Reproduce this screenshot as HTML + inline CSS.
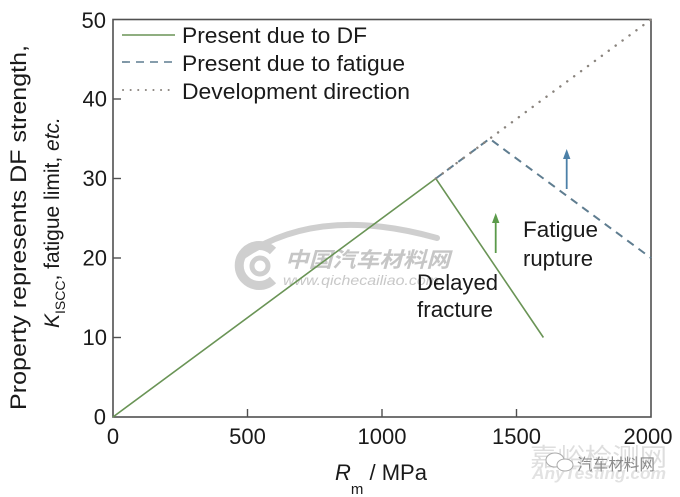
<!DOCTYPE html>
<html>
<head>
<meta charset="utf-8">
<style>
html,body{margin:0;padding:0;background:#fff;}
svg{display:block;}
text{font-family:"Liberation Sans","Noto Sans CJK SC",sans-serif;fill:#1a1a1a;}
</style>
</head>
<body>
<svg width="680" height="497" viewBox="0 0 680 497" xmlns="http://www.w3.org/2000/svg">
  <!-- watermark center -->
  <g fill="none" stroke="#cfcfcf">
    <path d="M245,255 Q320,205 437,238" stroke-width="6" stroke-linecap="round"/>
    <path d="M273,251 A20,20 0 1 0 273,280" stroke-width="9"/>
    <circle cx="260" cy="266" r="8" stroke-width="5"/>
  </g>
  <text x="285" y="267" font-size="21" font-weight="bold" font-style="italic" style="fill:#c6c6c6" textLength="165" lengthAdjust="spacingAndGlyphs">中国汽车材料网</text>
  <text x="283" y="285" font-size="14" font-style="italic" style="fill:#c8c8c8" textLength="156" lengthAdjust="spacingAndGlyphs">www.qichecailiao.com</text>

  <!-- watermark bottom right -->
  <text x="530" y="466" font-size="25" style="fill:#dedede" textLength="137" lengthAdjust="spacingAndGlyphs">嘉峪检测网</text>
  <text x="532" y="479" font-size="17" font-style="italic" font-weight="bold" style="fill:#e2e2e2" textLength="134" lengthAdjust="spacingAndGlyphs">AnyTesting.com</text>
  <g fill="#fff" stroke="#aaa" stroke-width="1">
    <ellipse cx="555" cy="460" rx="9" ry="7"/>
    <ellipse cx="565" cy="465" rx="8" ry="6"/>
  </g>
  <text x="577" y="470" font-size="16" style="fill:#8a8a8a" textLength="78" lengthAdjust="spacingAndGlyphs">汽车材料网</text>

  <!-- axes frame -->
  <rect x="113" y="19.5" width="538" height="397.5" fill="none" stroke="#505050" stroke-width="1.6"/>
  <g stroke="#505050" stroke-width="1.4">
    <line x1="113" y1="337.5" x2="121" y2="337.5"/>
    <line x1="113" y1="258" x2="121" y2="258"/>
    <line x1="113" y1="178.5" x2="121" y2="178.5"/>
    <line x1="113" y1="99" x2="121" y2="99"/>
    <line x1="247.5" y1="417" x2="247.5" y2="409"/>
    <line x1="382" y1="417" x2="382" y2="409"/>
    <line x1="516.5" y1="417" x2="516.5" y2="409"/>
  </g>
  <!-- y tick labels -->
  <g font-size="22" text-anchor="end">
    <text x="106" y="424.5">0</text>
    <text x="107" y="345">10</text>
    <text x="107" y="265.5">20</text>
    <text x="107" y="186">30</text>
    <text x="107" y="106.5">40</text>
    <text x="106" y="28">50</text>
  </g>
  <!-- x tick labels -->
  <g font-size="22" text-anchor="middle">
    <text x="113" y="444">0</text>
    <text x="247.5" y="444">500</text>
    <text x="382" y="444">1000</text>
    <text x="516.5" y="444">1500</text>
    <text x="648" y="444">2000</text>
  </g>
  <!-- x label -->
  <text x="335" y="480" font-size="22"><tspan font-style="italic">R</tspan><tspan font-size="15" dy="14">m</tspan><tspan dy="-14"> / MPa</tspan></text>

  <!-- y label -->
  <text transform="translate(26,227.5) rotate(-90)" font-size="22" text-anchor="middle" textLength="365" lengthAdjust="spacingAndGlyphs">Property represents DF strength,</text>
  <text transform="translate(59,328) rotate(-90)" font-size="21"><tspan font-style="italic">K</tspan><tspan font-size="14" dy="6">ISCC</tspan><tspan dy="-6">, fatigue limit, </tspan><tspan font-style="italic">etc.</tspan></text>

  <!-- series -->
  <polyline points="113,417 435.8,178.5 543.4,337.5" fill="none" stroke="#6a9456" stroke-width="1.6"/>
  <polyline points="435.8,178.5 489.6,138.75 651,258" fill="none" stroke="#5f7d90" stroke-width="2" stroke-dasharray="8,6"/>
  <line x1="435.8" y1="178.5" x2="651" y2="19.5" stroke="#8a847e" stroke-width="2.4" stroke-dasharray="0.1,8.5" stroke-linecap="round"/>

  <!-- arrows -->
  <line x1="495.7" y1="253" x2="495.7" y2="220" stroke="#5b9a4a" stroke-width="1.8"/>
  <polygon points="495.7,213 492,223 499.4,223" fill="#5b9a4a"/>
  <line x1="566.7" y1="189" x2="566.7" y2="156" stroke="#4c80a8" stroke-width="1.8"/>
  <polygon points="566.7,149 563,159 570.4,159" fill="#4c80a8"/>

  <!-- annotations -->
  <g font-size="22">
    <text x="523" y="237" textLength="75" lengthAdjust="spacingAndGlyphs">Fatigue</text>
    <text x="523" y="266" textLength="70" lengthAdjust="spacingAndGlyphs">rupture</text>
    <text x="417" y="290" textLength="81" lengthAdjust="spacingAndGlyphs">Delayed</text>
    <text x="417" y="317" textLength="76" lengthAdjust="spacingAndGlyphs">fracture</text>
  </g>

  <!-- legend -->
  <line x1="122" y1="35" x2="175" y2="35" stroke="#6a9456" stroke-width="1.6"/>
  <line x1="122" y1="62" x2="175" y2="62" stroke="#5f7d90" stroke-width="1.6" stroke-dasharray="8,6"/>
  <line x1="123" y1="90" x2="175" y2="90" stroke="#8a847e" stroke-width="2" stroke-dasharray="0.1,7.5" stroke-linecap="round"/>
  <g font-size="22">
    <text x="182" y="43" textLength="185" lengthAdjust="spacingAndGlyphs">Present due to DF</text>
    <text x="182" y="71" textLength="223" lengthAdjust="spacingAndGlyphs">Present due to fatigue</text>
    <text x="182" y="99" textLength="228" lengthAdjust="spacingAndGlyphs">Development direction</text>
  </g>
</svg>
</body>
</html>
